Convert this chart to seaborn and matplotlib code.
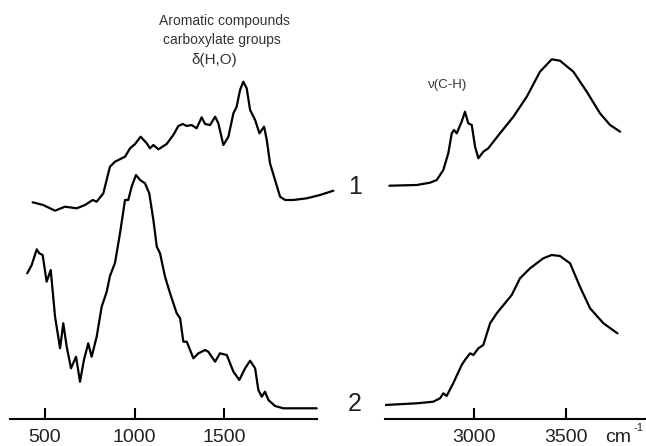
import matplotlib
matplotlib.use("Agg")
import matplotlib.pyplot as plt
import seaborn as sns
import pandas as pd

# ---- data (wavenumber cm^-1, absorbance a.u.) ----
wn1_low = [431, 490, 556, 611, 677, 723, 766, 788, 825, 862, 890, 946, 974, 1002, 1033,
           1067, 1085, 1104, 1132, 1178, 1215, 1243, 1268, 1290, 1317, 1345, 1373, 1392,
           1420, 1448, 1466, 1494, 1522, 1550, 1568, 1587, 1605, 1624, 1643, 1671, 1695,
           1721, 1736, 1754, 1782, 1810, 1838, 1884, 1959, 2033, 2107]
abs1_low = [2.167, 2.14, 2.083, 2.123, 2.107, 2.14, 2.19, 2.173, 2.257, 2.523, 2.573, 2.623,
            2.707, 2.75, 2.823, 2.757, 2.707, 2.74, 2.697, 2.75, 2.84, 2.93, 2.95, 2.93,
            2.94, 2.907, 3.017, 2.95, 2.94, 3.023, 2.957, 2.74, 2.823, 3.057, 3.123, 3.29,
            3.373, 3.307, 3.09, 2.99, 2.857, 2.923, 2.79, 2.557, 2.39, 2.223, 2.19, 2.19,
            2.207, 2.24, 2.283]

wn2_low = [401, 426, 454, 468, 487, 509, 532, 556, 584, 602, 621, 645, 673, 695, 717, 741,
           760, 788, 816, 844, 862, 890, 918, 946, 964, 983, 1007, 1030, 1057, 1081, 1104,
           1123, 1141, 1169, 1197, 1234, 1253, 1271, 1290, 1327, 1355, 1373, 1392, 1410,
           1448, 1475, 1513, 1550, 1583, 1615, 1643, 1671, 1689, 1708, 1726, 1745, 1782,
           1828, 2014]
abs2_low = [1.457, 1.54, 1.697, 1.657, 1.64, 1.373, 1.49, 1.023, 0.707, 0.957, 0.723, 0.507,
            0.623, 0.373, 0.59, 0.757, 0.623, 0.823, 1.123, 1.273, 1.43, 1.56, 1.857, 2.19,
            2.19, 2.323, 2.44, 2.39, 2.357, 2.257, 1.99, 1.723, 1.657, 1.423, 1.257, 1.057,
            1.007, 0.773, 0.773, 0.607, 0.657, 0.673, 0.69, 0.673, 0.573, 0.657, 0.64,
            0.473, 0.39, 0.507, 0.583, 0.507, 0.29, 0.223, 0.273, 0.19, 0.13, 0.107, 0.107]

wn1_high = [2537, 2686, 2758, 2795, 2831, 2858, 2877, 2889, 2904, 2931, 2949, 2967, 2986,
            3004, 3022, 3049, 3076, 3140, 3213, 3286, 3358, 3422, 3467, 3540, 3613, 3685,
            3740, 3795]
abs1_high = [2.333, 2.34, 2.363, 2.39, 2.49, 2.657, 2.857, 2.89, 2.857, 2.973, 3.073, 2.957,
             2.94, 2.723, 2.607, 2.673, 2.707, 2.857, 3.023, 3.223, 3.473, 3.597, 3.583,
             3.473, 3.273, 3.057, 2.94, 2.873]

wn2_high = [2513, 2686, 2776, 2813, 2831, 2849, 2885, 2931, 2949, 2977, 2995, 3022, 3049,
            3086, 3122, 3204, 3249, 3304, 3376, 3422, 3467, 3522, 3576, 3631, 3704, 3780]
abs2_high = [0.14, 0.157, 0.173, 0.207, 0.257, 0.23, 0.357, 0.54, 0.59, 0.657, 0.64, 0.707,
             0.74, 0.957, 1.057, 1.24, 1.407, 1.507, 1.607, 1.64, 1.63, 1.557, 1.323, 1.107,
             0.957, 0.857]

ticks_low = [500, 1000, 1500]
ticks_high = [3000, 3500]
spectrum_labels = ["1", "2"]

# ---- style ----
sns.set_theme(style="white")
plt.rcParams["font.family"] = ["Liberation Sans", "DejaVu Sans"]

W, H = 646, 446
fig = plt.figure(figsize=(W / 100, H / 100), dpi=100)

def px_axes(x0, x1, y_bottom):
    return fig.add_axes([x0 / W, (H - y_bottom) / H, (x1 - x0) / W, y_bottom / H])

ax1 = px_axes(10, 340, 419)
ax2 = px_axes(385, 646, 419)

def draw(ax, wn, ab):
    df = pd.DataFrame({"wn": wn, "A": ab})
    sns.lineplot(data=df, x="wn", y="A", ax=ax, color="black", linewidth=1.6,
                 estimator=None, sort=False, solid_joinstyle="round",
                 solid_capstyle="round")

draw(ax1, wn1_low, abs1_low)
draw(ax1, wn2_low, abs2_low)
draw(ax2, wn1_high, abs1_high)
draw(ax2, wn2_high, abs2_high)

ax1.set_xlim(305, 2144)
ax2.set_xlim(2513, 3936)
for ax in (ax1, ax2):
    ax.set_ylim(0, 4.19)
    ax.set_xlabel("")
    ax.set_ylabel("")
    ax.set_yticks([])
    for s in ("top", "left", "right"):
        ax.spines[s].set_visible(False)
    ax.spines["bottom"].set_color("black")
    ax.spines["bottom"].set_linewidth(1.5)
    ax.tick_params(axis="x", direction="in", length=8, width=1.5, color="black",
                   labelsize=14, labelcolor="#222222", pad=7, bottom=True)
    ax.patch.set_alpha(0)

ax1.spines["bottom"].set_bounds(305, 2014)
ax1.set_xticks(ticks_low)
ax2.set_xticks(ticks_high)

def ftext(x, y, s, **kw):
    fig.text(x / W, 1 - y / H, s, **kw)

ftext(605, 438, "cm", fontsize=14, color="#222222", ha="left", va="center")
ftext(634, 428, "-1", fontsize=8, color="#222222", ha="left", va="center")
ftext(355, 187, spectrum_labels[0], fontsize=18, color="#222222", ha="center", va="center")
ftext(355, 404, spectrum_labels[1], fontsize=18, color="#222222", ha="center", va="center")

ftext(224, 21, "Aromatic compounds", fontsize=10, color="#333333", ha="center", va="center")
ftext(222, 40, "carboxylate groups", fontsize=10, color="#333333", ha="center", va="center")
ftext(214, 60, "δ(H,O)", fontsize=11, color="#333333", ha="center", va="center")
ftext(448, 85, "ν(C-H)", fontsize=9.5, color="#333333", ha="center", va="center")

fig.savefig("out.png", dpi=100)
